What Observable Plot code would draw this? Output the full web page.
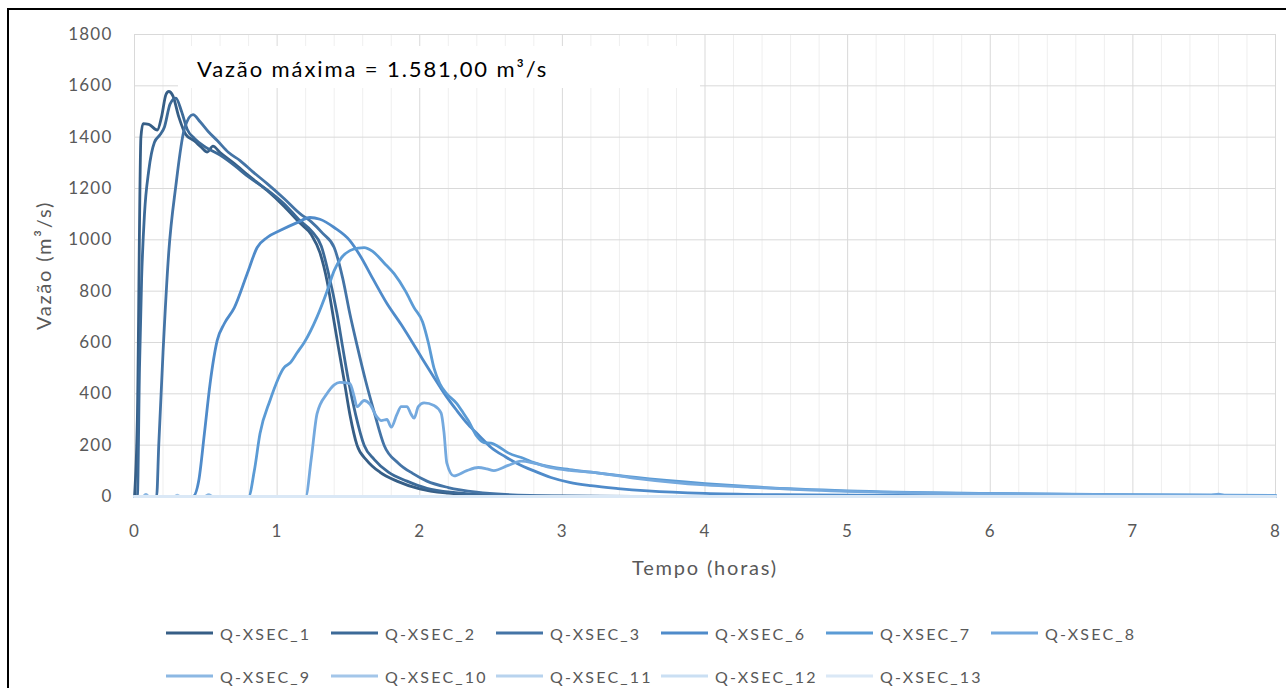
<!DOCTYPE html>
<html>
<head>
<meta charset="utf-8">
<script src="https://cdn.jsdelivr.net/npm/d3@7"></script>
<script src="https://cdn.jsdelivr.net/npm/@observablehq/plot@0.6"></script>
<style>
  html, body { margin: 0; padding: 0; background: #fff; width: 1286px; height: 688px; overflow: hidden; }
  #wrap { position: relative; width: 1286px; height: 688px; font-family: Lato, "Open Sans", sans-serif; }
  #chart { position: absolute; left: 0; top: 0; }
  #frame { position: absolute; left: 7px; top: 8px; width: 1300px; height: 700px; border: 2px solid #000; box-sizing: border-box; pointer-events: none; }
  #titlebox { position: absolute; left: 178px; top: 46px; width: 522px; height: 42px; background: #fff; color: #000; font-size: 22px; line-height: 46px; padding-left: 19px; box-sizing: border-box; letter-spacing: 1.9px; white-space: nowrap; }
  .leg { position: absolute; display: flex; align-items: center; font-size: 16px; color: #595959; letter-spacing: 2.2px; white-space: nowrap; }
  .leg svg { margin-right: 7px; }
</style>
</head>
<body>
<div id="wrap">
  <div id="chart"></div>
  <div id="titlebox">Vazão máxima = 1.581,00 m³/s</div>
  <div id="legend"></div>
  <div id="frame"></div>
</div>
<script>
// ---- Data ----
const names = ["Q-XSEC_1","Q-XSEC_2","Q-XSEC_3","Q-XSEC_6","Q-XSEC_7","Q-XSEC_8","Q-XSEC_9","Q-XSEC_10","Q-XSEC_11","Q-XSEC_12","Q-XSEC_13"];
const colors = ["#365e86","#3c6a98","#4474a6","#4f8bca","#5b9bd5","#74a9de","#8cb8e3","#a3c6e9","#b8d3ee","#cadff3","#dae8f6"];

const t1 = [0,0.02,0.045,0.06,0.1,0.16,0.19,0.22,0.24,0.27,0.31,0.36,0.42,0.47,0.51,0.55,0.6,0.7,0.8,0.93,1.05,1.16,1.24,1.3,1.35,1.39,1.43,1.47,1.51,1.56,1.63,1.72,1.84,2.0,2.2,2.45,2.8,3.2,8];
const q1 = [0,300,1400,1453,1450,1428,1480,1565,1578,1560,1480,1410,1385,1360,1342,1365,1340,1297,1250,1192,1130,1065,1020,950,840,712,580,452,320,200,140,95,60,30,13,5,1,0,0];

const t2 = [0,0.02,0.035,0.05,0.07,0.1,0.14,0.18,0.21,0.25,0.29,0.33,0.37,0.42,0.5,0.6,0.7,0.8,0.93,1.05,1.16,1.24,1.31,1.36,1.42,1.46,1.5,1.55,1.61,1.68,1.78,1.91,2.05,2.25,2.5,2.9,3.3,8];
const q2 = [0,0,500,850,1100,1270,1380,1410,1440,1530,1552,1500,1430,1395,1360,1330,1290,1245,1195,1140,1075,1035,975,870,712,580,452,320,200,145,95,60,32,15,6,1,0,0];

const t3 = [0,0.155,0.17,0.2,0.24,0.29,0.35,0.41,0.46,0.52,0.58,0.66,0.74,0.83,0.93,1.05,1.16,1.24,1.32,1.4,1.46,1.51,1.56,1.62,1.68,1.75,1.85,1.95,2.05,2.2,2.4,2.6,3.0,3.5,8];
const q3 = [0,0,200,561,950,1211,1433,1488,1460,1420,1387,1340,1309,1265,1219,1160,1102,1070,1025,970,850,712,590,452,330,200,130,90,60,35,17,8,2,0,0];

const t6 = [0,0.41,0.45,0.49,0.53,0.58,0.63,0.7,0.79,0.86,0.93,1.02,1.14,1.23,1.3,1.4,1.51,1.58,1.67,1.77,1.87,1.94,2.02,2.1,2.18,2.26,2.34,2.42,2.5,2.6,2.68,2.8,2.92,3.05,3.2,3.39,3.6,4.0,4.5,5,6,8];
const q6 = [0,0,60,245,440,608,674,736,868,970,1009,1036,1067,1087,1080,1048,997,940,850,752,670,608,535,464,395,335,280,235,191,155,130,100,74,55,42,31,22,12,7,5,3,2];

const t7 = [0,0.8,0.84,0.88,0.95,1.05,1.09,1.14,1.19,1.28,1.35,1.4,1.45,1.51,1.57,1.61,1.67,1.75,1.82,1.9,1.96,2.02,2.06,2.1,2.14,2.19,2.26,2.3,2.34,2.4,2.45,2.5,2.55,2.62,2.73,2.8,2.92,3.05,3.2,3.5,4.0,4.32,5,6,7,8];
const q7 = [0,0,100,245,374,503,520,560,600,700,800,880,930,958,968,970,955,910,868,800,736,680,600,500,440,400,362,330,296,235,210,208,195,170,148,132,115,105,95,75,50,38,22,12,7,4];

const t8 = [0,1.2,1.24,1.28,1.35,1.4,1.44,1.51,1.54,1.56,1.61,1.65,1.7,1.73,1.77,1.8,1.84,1.87,1.91,1.94,1.96,1.99,2.03,2.1,2.15,2.17,2.19,2.24,2.33,2.41,2.47,2.52,2.62,2.71,2.8,2.92,3.05,3.2,3.5,4.0,4.32,5,6,7,7.55,7.6,7.65,8];
const q8 = [0,0,150,323,401,435,445,440,390,350,374,360,310,296,300,270,320,350,350,320,305,350,365,355,325,250,130,80,101,113,108,101,121,138,130,112,102,95,72,45,36,20,11,6,5,9,4,3];

const t9 = [0,0.06,0.08,0.1,0.49,0.52,0.55,8];
const q9 = [0,0,8,0,0,7,0,0];
const t10 = [0,0.28,0.3,0.32,8];
const q10 = [0,0,5,0,0];
const t11 = [0,8], q11 = [0,0];
const t12 = [0,8], q12 = [0,0];
const t13 = [0,8], q13 = [0,0];

const xTicks = [0,1,2,3,4,5,6,7,8];
const yTicks = [0,200,400,600,800,1000,1200,1400,1600,1800];

// ---- Build table ----
const seriesT = [t1,t2,t3,t6,t7,t8,t9,t10,t11,t12,t13];
const seriesQ = [q1,q2,q3,q6,q7,q8,q9,q10,q11,q12,q13];
const rows = [];
seriesT.forEach((ts, i) => ts.forEach((t, j) => rows.push({series: names[i], t, q: seriesQ[i][j]})));

const minorX = d3.range(0, 40).map(i => i / 5).filter(v => Math.abs(v - Math.round(v)) > 1e-6);

const chart = Plot.plot({
  width: 1286,
  height: 590,
  marginLeft: 134,
  marginRight: 11,
  marginTop: 34,
  marginBottom: 94,
  style: {fontFamily: "Lato, 'Open Sans', sans-serif", background: "transparent", color: "#595959"},
  x: {domain: [0, 8]},
  y: {domain: [0, 1800]},
  color: {domain: names, range: colors},
  marks: [
    Plot.gridX(minorX, {stroke: "#efefef", strokeOpacity: 1, strokeWidth: 1}),
    Plot.gridX(xTicks, {stroke: "#d9d9d9", strokeOpacity: 1, strokeWidth: 1}),
    Plot.gridY(yTicks, {stroke: "#d9d9d9", strokeOpacity: 1, strokeWidth: 1}),
    Plot.axisX({ticks: xTicks, tickSize: 0, tickPadding: 28, fontSize: 17, tickFormat: d => String(d),
      label: "Tempo (horas)", labelAnchor: "center", labelArrow: "none", labelOffset: 78}),
    Plot.axisY({ticks: yTicks, tickSize: 0, tickPadding: 22, fontSize: 17, tickFormat: d => String(d),
      label: "Vazão (m³/s)", labelAnchor: "center", labelArrow: "none", labelOffset: 98}),
    Plot.line(rows, {x: "t", y: "q", z: "series", stroke: "series", strokeWidth: 2.8, curve: "monotone-x"})
  ]
});
document.getElementById("chart").appendChild(chart);

// style text inside svg
d3.select(chart).selectAll("text").style("letter-spacing", "1.2px");
d3.select(chart).selectAll("[aria-label='x-axis label'] text, [aria-label='y-axis label'] text")
  .style("font-size", "20px").style("letter-spacing", "1.8px");

// ---- Legend ----
const legend = document.getElementById("legend");
names.forEach((n, i) => {
  const row = Math.floor(i / 6), col = i % 6;
  const el = document.createElement("div");
  el.className = "leg";
  el.style.left = (166 + col * 165) + "px";
  el.style.top = (row === 0 ? 622 : 665) + "px";
  el.style.height = "22px";
  el.innerHTML = `<svg width="47" height="6"><line x1="0" y1="3" x2="47" y2="3" stroke="${colors[i]}" stroke-width="3"/></svg><span>${n}</span>`;
  legend.appendChild(el);
});
</script>
</body>
</html>
